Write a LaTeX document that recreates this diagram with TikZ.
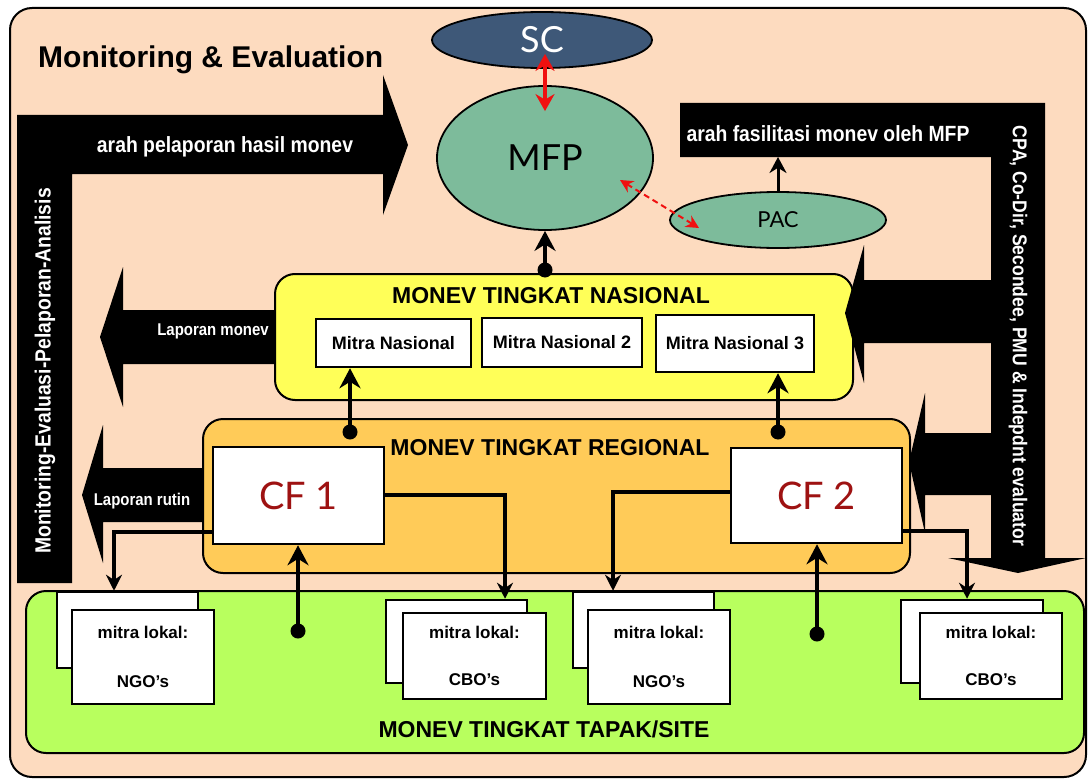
\documentclass[tikz,border=0pt]{standalone}
\usepackage{fontspec}
\setmainfont{Liberation Sans}
\newfontfamily\gill{Lato}
\newfontfamily\narrowf[FakeStretch=0.88]{Liberation Sans}
\usetikzlibrary{arrows.meta,shapes.geometric,calc}
\definecolor{peach}{HTML}{FDDBBF}
\definecolor{scblue}{HTML}{3E5878}
\definecolor{tealgreen}{HTML}{7DBB9B}
\definecolor{yelbox}{HTML}{FFFF58}
\definecolor{orabox}{HTML}{FFCB58}
\definecolor{grebox}{HTML}{B8FF5E}
\definecolor{cfred}{HTML}{9E1212}
\definecolor{brightred}{HTML}{F01010}
\begin{document}
\begin{tikzpicture}[x=1pt,y=-1pt,
  lvlbox/.style={draw=black, line width=2pt, rounded corners=20pt, inner sep=0pt},
  wbox/.style={draw=black, line width=2.5pt, fill=white, inner sep=0pt},
  ell/.style={ellipse, draw=black, line width=1.8pt, inner sep=0pt},
  bandtext/.style={text=white, inner sep=0pt, font=\narrowf\bfseries\fontsize{22}{24}\selectfont},
  smallband/.style={text=white, inner sep=0pt, font=\narrowf\bfseries\fontsize{17}{19}\selectfont},
  lvl/.style={inner sep=0pt, font=\bfseries\fontsize{23}{26}\selectfont},
  mitra/.style={font=\bfseries\fontsize{18}{20}\selectfont},
  lokal/.style={align=center, font=\bfseries\fontsize{17}{19}\selectfont},
  bigarrow/.style={line width=3.8pt, -{Stealth[length=20pt,width=21pt]}},
  thinarrow/.style={line width=3.2pt, -{Stealth[length=16pt,width=16pt]}},
  dotmark/.style={fill=black},
]
\useasboundingbox (0,0) rectangle (1089,781);
% frame
\draw[line width=2pt, fill=peach, rounded corners=22pt] (10,8) rectangle (1086,777);
\node[inner sep=0pt, anchor=base west, font=\bfseries\fontsize{30}{34}\selectfont] (title) at (38,68) {Monitoring \& Evaluation};

% level boxes
\node[lvlbox, fill=yelbox, minimum width=578pt, minimum height=126pt] (nas) at (564,337) {};
\node[lvlbox, fill=orabox, minimum width=707pt, minimum height=154pt] (reg) at (556.5,496) {};
\node[lvlbox, fill=grebox, minimum width=1058pt, minimum height=162pt] (site) at (555,672) {};
\node[lvl, anchor=base] (nast) at (551,303) {MONEV TINGKAT NASIONAL};
\node[lvl, anchor=base] (regt) at (550,455) {MONEV TINGKAT REGIONAL};
\node[lvl, anchor=base] (sitet) at (544,737) {MONEV TINGKAT TAPAK/SITE};

% left bands
\fill (17,583) -- (17,115) -- (383,115) -- (383,75) -- (408,145) -- (383,215) -- (383,174) -- (72,174) -- (72,583) -- cycle;
\node[bandtext, anchor=base] (tpel) at (225,153) {arah pelaporan hasil monev};
\node[bandtext, rotate=90] (tmon) at (45,371) {Monitoring-Evaluasi-Pelaporan-Analisis};
\fill (275,310) -- (123,310) -- (123,267) -- (100,337) -- (123,407) -- (123,364) -- (275,364) -- cycle;
\node[smallband, anchor=base] (tlm) at (213,335) {Laporan monev};
\fill (203,468) -- (103,468) -- (103,425) -- (82,495) -- (103,563) -- (103,522) -- (203,522) -- cycle;
\node[smallband, anchor=base] (tlr) at (142,505) {Laporan rutin};

% right band
\fill (680,103) -- (1045,103) -- (1045,558) -- (1086,558) -- (1018,573) -- (948,558) -- (991,558)
  -- (991,495) -- (925,495) -- (925,533) -- (909,462) -- (925,393) -- (925,433) -- (991,433)
  -- (991,343) -- (864,343) -- (864,383) -- (845,313) -- (864,245) -- (864,280) -- (991,280)
  -- (991,157) -- (680,157) -- cycle;
\node[bandtext, anchor=base] (tfas) at (828,142) {arah fasilitasi monev oleh MFP};
\node[bandtext, rotate=-90, font=\narrowf\bfseries\fontsize{20}{22}\selectfont] (tcpa) at (1018,336) {CPA, Co-Dir, Secondee, PMU \& Indepdnt evaluator};
\coordinate (fa) at (776,157);

% ellipses
\node[ell, fill=scblue, minimum width=220pt, minimum height=56pt, text=white, font=\gill\fontsize{36}{40}\selectfont] (sc) at (542,40) {SC};
\node[ell, fill=tealgreen, minimum width=216pt, minimum height=144pt, font=\gill\fontsize{36}{40}\selectfont] (mfp) at (545,158) {MFP};
\node[ell, fill=tealgreen, minimum width=216pt, minimum height=56pt, font=\gill\fontsize{22}{24}\selectfont] (pac) at (778,220) {PAC};

\draw[brightred, line width=4.5pt, {Stealth[length=17pt,width=19pt]}-{Stealth[length=17pt,width=19pt]}, shorten <=-15pt, shorten >=-26pt] (mfp.north |- sc.south) -- (mfp.north);
\coordinate (r1) at (620,180);
\coordinate (r2) at (699,228);
\draw[brightred, line width=2pt, dash pattern=on 6pt off 4pt, {Stealth[length=13pt,width=13pt]}-{Stealth[length=13pt,width=13pt]}] (r1) -- (r2);
\draw[line width=3pt, -{Stealth[length=16pt,width=17pt]}] (pac.north) -- (pac.north |- fa);

% national partners
\node[wbox, mitra, minimum width=155pt, minimum height=48pt] (mn1) at (393.5,343) {Mitra Nasional};
\node[wbox, mitra, minimum width=160pt, minimum height=49pt] (mn2) at (562,342.5) {Mitra Nasional 2};
\node[wbox, mitra, minimum width=158pt, minimum height=57pt] (mn3) at (735,343.5) {Mitra Nasional 3};

% CF boxes
\node[wbox, minimum width=171pt, minimum height=97pt, text=cfred, font=\gill\fontsize{38}{42}\selectfont] (cf1) at (298.5,495.5) {CF 1};
\node[wbox, minimum width=171pt, minimum height=95pt, text=cfred, font=\gill\fontsize{38}{42}\selectfont] (cf2) at (816.5,495.5) {CF 2};

% local partners
\node[wbox, minimum width=141pt, minimum height=76pt] (ngo1b) at (127.5,630) {};
\node[wbox, lokal, minimum width=142pt, minimum height=94pt] (ngo1) at (143,657) {mitra lokal:\\[30pt]NGO's};
\node[wbox, minimum width=141pt, minimum height=83pt] (cbo1b) at (456.5,641.5) {};
\node[wbox, lokal, minimum width=143pt, minimum height=86pt] (cbo1) at (474.5,656) {mitra lokal:\\[28pt]CBO's};
\node[wbox, minimum width=141pt, minimum height=76pt] (ngo2b) at (643.5,630) {};
\node[wbox, lokal, minimum width=142pt, minimum height=94pt] (ngo2) at (659,657) {mitra lokal:\\[30pt]NGO's};
\node[wbox, minimum width=142pt, minimum height=83pt] (cbo2b) at (972,641.5) {};
\node[wbox, lokal, minimum width=142pt, minimum height=86pt] (cbo2) at (991,656) {mitra lokal:\\[28pt]CBO's};

% dot connectors
\coordinate (dm) at (545,270);
\coordinate (d1) at (350,432);
\coordinate (d3) at (778,432);
\coordinate (dc1) at (298,631);
\coordinate (dc2) at (817,634);
\draw[bigarrow] (dm) -- (mfp.south);
\draw[bigarrow] (d1) -- (d1 |- mn1.south);
\draw[bigarrow] (d3) -- (d3 |- mn3.south);
\draw[bigarrow] (dc1) -- (dc1 |- cf1.south);
\draw[bigarrow] (dc2) -- (dc2 |- cf2.south);
\foreach \d in {dm,d1,d3,dc1,dc2} \fill[dotmark] (\d) circle (7.5pt);

% CF to local partners
\coordinate (c1) at (114,532);
\coordinate (c2) at (505,495);
\coordinate (c3) at (613,492);
\coordinate (c4) at (967,531);
\draw[thinarrow] (cf1.west |- c1) -| (ngo1b.north -| c1);
\draw[thinarrow] (cf1.east |- c2) -| (cbo1b.north -| c2);
\draw[thinarrow] (cf2.west |- c3) -| (ngo2b.north -| c3);
\draw[thinarrow] (cf2.east |- c4) -| (cbo2b.north -| c4);
\end{tikzpicture}
\end{document}
